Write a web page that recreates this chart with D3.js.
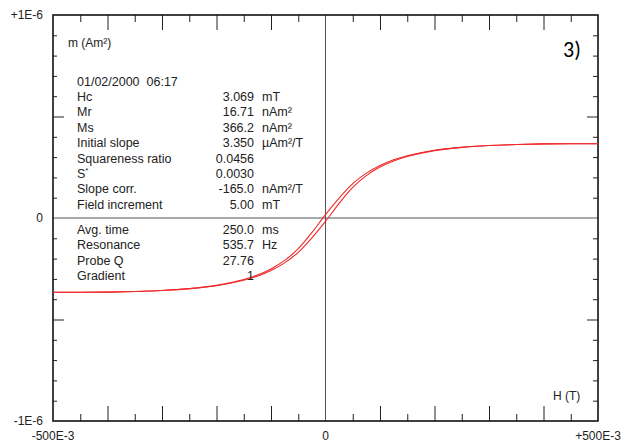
<!DOCTYPE html>
<html>
<head>
<meta charset="utf-8">
<script src="https://cdn.jsdelivr.net/npm/d3@7/dist/d3.min.js"></script>
<style>
  body { margin: 0; background: #fff; }
  svg { font-family: "Liberation Sans", Arial, sans-serif; }
</style>
</head>
<body>
<script>
// field H in T, moment m in units of 1E-6 Am2
var fieldH = [-0.5, -0.45, -0.4, -0.35, -0.3, -0.25, -0.2, -0.15, -0.125, -0.1, -0.075, -0.05, -0.025,
              0, 0.025, 0.05, 0.075, 0.1, 0.125, 0.15, 0.2, 0.25, 0.3, 0.35, 0.4, 0.45, 0.5];
// branch coming down from +saturation
var momentDown = [-0.366, -0.366, -0.365, -0.362, -0.357, -0.348, -0.332, -0.303, -0.281, -0.251, -0.209, -0.151, -0.072,
                  0.017, 0.098, 0.169, 0.221, 0.259, 0.287, 0.307, 0.334, 0.348, 0.357, 0.362, 0.365, 0.366, 0.366];
// branch going up from -saturation
var momentUp = [-0.366, -0.366, -0.365, -0.362, -0.357, -0.348, -0.334, -0.307, -0.287, -0.259, -0.221, -0.169, -0.098,
                -0.017, 0.072, 0.151, 0.209, 0.251, 0.281, 0.303, 0.332, 0.348, 0.357, 0.362, 0.365, 0.366, 0.366];

var xMajor = [-0.4, -0.3, -0.2, -0.1, 0.1, 0.2, 0.3, 0.4];
var xMinor = [-0.45, -0.35, -0.25, -0.15, -0.05, 0.05, 0.15, 0.25, 0.35, 0.45];
var yMajor = [-0.5, 0.5];
var yMinor = [-0.9, -0.8, -0.7, -0.6, -0.4, -0.3, -0.2, -0.1, 0.1, 0.2, 0.3, 0.4, 0.6, 0.7, 0.8, 0.9];

var xLabelValues = [-0.5, 0, 0.5];
var xLabelText = ["-500E-3", "0", "+500E-3"];
var yLabelValues = [1, 0, -1];
var yLabelText = ["+1E-6", "0", "-1E-6"];

var infoNames1 = ["Hc", "Mr", "Ms", "Initial slope", "Squareness ratio", "S", "Slope corr.", "Field increment"];
var infoValues1 = ["3.069", "16.71", "366.2", "3.350", "0.0456", "0.0030", "-165.0", "5.00"];
var infoUnits1 = ["mT", "nAm²", "nAm²", "µAm²/T", "", "", "nAm²/T", "mT"];
var infoNames2 = ["Avg. time", "Resonance", "Probe Q", "Gradient"];
var infoValues2 = ["250.0", "535.7", "27.76", "1"];
var infoUnits2 = ["ms", "Hz", "", ""];

var svg = d3.select('body').append('svg')
    .attr('width', 623)
    .attr('height', 444);

var x = d3.scaleLinear().domain([-0.5, 0.5]).range([53, 598]);
var y = d3.scaleLinear().domain([-1, 1]).range([421, 15]);

// zero lines
svg.append('line')
    .attr('x1', x(-0.5)).attr('x2', x(0.5))
    .attr('y1', y(0)).attr('y2', y(0))
    .attr('stroke', '#555').attr('stroke-width', 1);
svg.append('line')
    .attr('x1', x(0)).attr('x2', x(0))
    .attr('y1', y(1)).attr('y2', y(-1))
    .attr('stroke', '#555').attr('stroke-width', 1);

function tickAxis(axis, values, size, tx, ty) {
    var g = svg.append('g')
        .attr('transform', 'translate(' + tx + ',' + ty + ')')
        .call(axis.tickValues(values).tickSize(size).tickFormat(''));
    g.select('.domain').remove();
    g.selectAll('line').attr('stroke', '#222').attr('stroke-width', 1);
}

tickAxis(d3.axisTop(x), xMajor, 15, 0, y(-1));
tickAxis(d3.axisTop(x), xMinor, 7, 0, y(-1));
tickAxis(d3.axisBottom(x), xMajor, 15, 0, y(1));
tickAxis(d3.axisBottom(x), xMinor, 7, 0, y(1));
tickAxis(d3.axisRight(y), yMajor, 11, x(-0.5), 0);
tickAxis(d3.axisRight(y), yMinor, 4, x(-0.5), 0);
tickAxis(d3.axisLeft(y), yMajor, 11, x(0.5), 0);
tickAxis(d3.axisLeft(y), yMinor, 5, x(0.5), 0);

// frame
svg.append('rect')
    .attr('x', x(-0.5)).attr('y', y(1))
    .attr('width', x(0.5) - x(-0.5))
    .attr('height', y(-1) - y(1))
    .attr('fill', 'none')
    .attr('stroke', '#111')
    .attr('stroke-width', 1.6);

// hysteresis loop
var line = d3.line()
    .x(function (d) { return x(d[0]); })
    .y(function (d) { return y(d[1]); })
    .curve(d3.curveCatmullRom.alpha(0.5));

[momentDown, momentUp].forEach(function (m) {
    svg.append('path')
        .datum(fieldH.map(function (h, i) { return [h, m[i]]; }))
        .attr('d', line)
        .attr('fill', 'none')
        .attr('stroke', '#f02828')
        .attr('stroke-width', 1.1);
});

// axis labels
svg.selectAll('.xlab').data(xLabelValues).enter().append('text')
    .attr('x', function (d) { return x(d); })
    .attr('y', 440)
    .attr('text-anchor', 'middle')
    .attr('font-size', 12)
    .attr('fill', '#222')
    .text(function (d, i) { return xLabelText[i]; });

svg.selectAll('.ylab').data(yLabelValues).enter().append('text')
    .attr('x', 43)
    .attr('y', function (d) { return y(d) + 4; })
    .attr('text-anchor', 'end')
    .attr('font-size', 12)
    .attr('fill', '#222')
    .text(function (d, i) { return yLabelText[i]; });

svg.append('text')
    .attr('x', 68).attr('y', 47)
    .attr('font-size', 12).attr('fill', '#222')
    .text('m (Am²)');

svg.append('text')
    .attr('x', 553).attr('y', 400)
    .attr('font-size', 12).attr('fill', '#222')
    .text('H (T)');

svg.append('text')
    .attr('x', 563).attr('y', 57)
    .attr('font-size', 22).attr('fill', '#000')
    .attr('font-family', 'Carlito, "Open Sans", sans-serif')
    .text('3)');

// measurement info
svg.append('text')
    .attr('x', 77).attr('y', 86)
    .attr('font-size', 12.5).attr('fill', '#222')
    .style('white-space', 'pre')
    .text('01/02/2000  06:17');

function infoBlock(names, values, units, y0) {
    names.forEach(function (n, i) {
        var yy = y0 + i * 15.4;
        var t = svg.append('text')
            .attr('x', 77).attr('y', yy)
            .attr('font-size', 12.5).attr('fill', '#222')
            .text(n);
        if (n === 'S') {
            t.append('tspan').attr('font-size', 8).attr('dy', -5).text('*');
        }
        svg.append('text')
            .attr('x', 254).attr('y', yy)
            .attr('text-anchor', 'end')
            .attr('font-size', 12.5).attr('fill', '#222')
            .text(values[i]);
        svg.append('text')
            .attr('x', 262).attr('y', yy)
            .attr('font-size', 12.5).attr('fill', '#222')
            .text(units[i]);
    });
}

infoBlock(infoNames1, infoValues1, infoUnits1, 101);
infoBlock(infoNames2, infoValues2, infoUnits2, 234);
</script>
</body>
</html>
